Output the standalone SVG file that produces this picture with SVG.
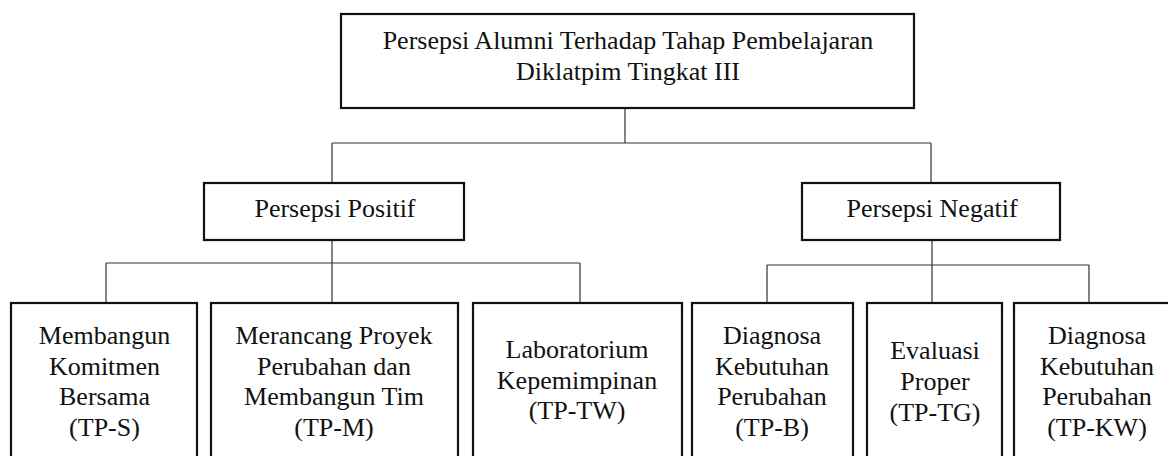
<svg xmlns="http://www.w3.org/2000/svg" width="1168" height="456" viewBox="0 0 1168 456">
<style>
.box{fill:#fff;stroke:#111;stroke-width:2.2}
.t{font-family:'Liberation Serif','Times New Roman',Tinos,'DejaVu Serif','Noto Serif',serif;font-size:26px;fill:#111;text-anchor:middle}
.c{fill:none;stroke:#333;stroke-width:1.2}
</style>
<rect width="1168" height="456" fill="#fff"/>
<g id="connectors">
<path class="c" d="M625 108V143M332 143H931M332 143V183M931 143V183"/>
<path class="c" d="M332 240V263M106 263H580M106 263V303M332 263V303M580 263V303"/>
<path class="c" d="M932 240V265M767 265H1089M767 265V303M932 265V303M1089 265V303"/>
</g>
<g id="root">
<rect class="box" x="341" y="14" width="573" height="94"/>
<text class="t" x="628" y="49">Persepsi Alumni Terhadap Tahap Pembelajaran</text>
<text class="t" x="628" y="80">Diklatpim Tingkat III</text>
</g>
<g id="positif">
<rect class="box" x="204" y="183" width="260" height="57"/>
<text class="t" x="335" y="217">Persepsi Positif</text>
</g>
<g id="negatif">
<rect class="box" x="802" y="183" width="258" height="57"/>
<text class="t" x="932" y="217">Persepsi Negatif</text>
</g>
<g id="tps">
<rect class="box" x="11" y="303" width="186" height="170"/>
<text class="t" x="104.5" y="344">Membangun</text>
<text class="t" x="104.5" y="374.5">Komitmen</text>
<text class="t" x="104.5" y="405">Bersama</text>
<text class="t" x="104.5" y="435.5">(TP-S)</text>
</g>
<g id="tpm">
<rect class="box" x="211" y="303" width="247" height="170"/>
<text class="t" x="334" y="344">Merancang Proyek</text>
<text class="t" x="334" y="374.5">Perubahan dan</text>
<text class="t" x="334" y="405">Membangun Tim</text>
<text class="t" x="334" y="435.5">(TP-M)</text>
</g>
<g id="tptw">
<rect class="box" x="473" y="303" width="209" height="170"/>
<text class="t" x="577" y="358">Laboratorium</text>
<text class="t" x="577" y="389">Kepemimpinan</text>
<text class="t" x="577" y="419">(TP-TW)</text>
</g>
<g id="tpb">
<rect class="box" x="692" y="303" width="161" height="170"/>
<text class="t" x="772" y="344">Diagnosa</text>
<text class="t" x="772" y="374.5">Kebutuhan</text>
<text class="t" x="772" y="405">Perubahan</text>
<text class="t" x="772" y="435.5">(TP-B)</text>
</g>
<g id="tptg">
<rect class="box" x="867" y="303" width="135" height="170"/>
<text class="t" x="935" y="359">Evaluasi</text>
<text class="t" x="935" y="390">Proper</text>
<text class="t" x="935" y="421">(TP-TG)</text>
</g>
<g id="tpkw">
<rect class="box" x="1014" y="303" width="166" height="170"/>
<text class="t" x="1097" y="344">Diagnosa</text>
<text class="t" x="1097" y="374.5">Kebutuhan</text>
<text class="t" x="1097" y="405">Perubahan</text>
<text class="t" x="1097" y="435.5">(TP-KW)</text>
</g>
</svg>
